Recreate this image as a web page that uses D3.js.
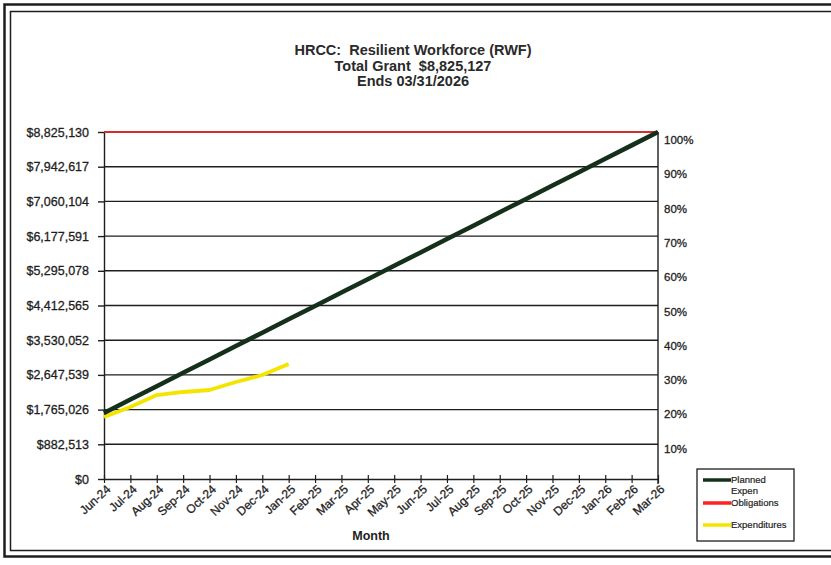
<!DOCTYPE html>
<html><head><meta charset="utf-8">
<script src="https://cdn.jsdelivr.net/npm/d3@7"></script>
<style>body{margin:0;background:#fff}svg{display:block}</style>
</head><body>
<svg id="c" width="831" height="565"></svg>
<script>
const months = ["Jun-24","Jul-24","Aug-24","Sep-24","Oct-24","Nov-24","Dec-24","Jan-25","Feb-25","Mar-25","Apr-25","May-25","Jun-25","Jul-25","Aug-25","Sep-25","Oct-25","Nov-25","Dec-25","Jan-26","Feb-26","Mar-26"];
const plannedExpen = [1680000,2020244,2360489,2700733,3040977,3381222,3721466,4061710,4401955,4742199,5082443,5422688,5762932,6103176,6443420,6783665,7123909,7464153,7804398,8144642,8484886,8825130];
const obligations = [8825130,8825130,8825130,8825130,8825130,8825130,8825130,8825130,8825130,8825130,8825130,8825130,8825130,8825130,8825130,8825130,8825130,8825130,8825130,8825130,8825130,8825130];
const expenditures = [1577000,1831000,2136000,2213000,2264000,2467000,2645000,2925000];
const leftTickValues = [0,882513,1765026,2647539,3530052,4412565,5295078,6177591,7060104,7942617,8825130];
const leftTickLabels = ["$0","$882,513","$1,765,026","$2,647,539","$3,530,052","$4,412,565","$5,295,078","$6,177,591","$7,060,104","$7,942,617","$8,825,130"];
const rightTickValues = [0.1,0.2,0.3,0.4,0.5,0.6,0.7,0.8,0.9,1.0];
const rightTickLabels = ["10%","20%","30%","40%","50%","60%","70%","80%","90%","100%"];
const titleLines = ["HRCC:  Resilient Workforce (RWF)","Total Grant  $8,825,127","Ends 03/31/2026"];
const legendItems = [
  {label:["Planned","Expen"], color:"#14301a"},
  {label:["Obligations"], color:"#ff2020"},
  {label:["Expenditures"], color:"#f4e400"}
];

const svg = d3.select("#c");
const F = "Liberation Sans, Arial, sans-serif";
const ink = "#1e1e1e";

// frame
svg.append("rect").attr("x",4.5).attr("y",4.5).attr("width",840).attr("height",552)
  .attr("fill","none").attr("stroke",ink).attr("stroke-width",2.5);
svg.append("rect").attr("x",10.5).attr("y",11.5).attr("width",830).attr("height",539)
  .attr("fill","none").attr("stroke",ink).attr("stroke-width",1.5);

const x = d3.scalePoint().domain(months).range([104,658]);
const y = d3.scaleLinear().domain([0,8825130]).range([479,132]);
const yR = d3.scaleLinear().domain([0,1]).range([483,140]);

// gridlines
svg.append("g").selectAll("line").data(leftTickValues.slice(1)).join("line")
  .attr("x1",104).attr("x2",658).attr("y1",d=>y(d)).attr("y2",d=>y(d))
  .attr("stroke",ink).attr("stroke-width",1.4);

// left axis
const gl = svg.append("g").attr("transform","translate(104,0)")
  .call(d3.axisLeft(y).tickValues(leftTickValues).tickFormat((d,i)=>leftTickLabels[i]).tickSize(6).tickSizeOuter(0).tickPadding(9));
gl.select(".domain").attr("stroke",ink).attr("stroke-width",1.4);
gl.selectAll(".tick line").attr("stroke",ink).attr("stroke-width",1.4);
gl.selectAll("text").attr("font-family",F).attr("font-size",12.5).attr("fill",ink)
  .attr("stroke",ink).attr("stroke-width",0.3);

// bottom axis
const gb = svg.append("g").attr("transform","translate(0,479)")
  .call(d3.axisBottom(x).tickSize(4).tickSizeOuter(0).tickFormat(""));
gb.select(".domain").attr("stroke",ink).attr("stroke-width",1.6);
gb.selectAll(".tick line").attr("stroke",ink).attr("stroke-width",1.2).attr("y1",-4);
gb.selectAll(".tick").append("text")
  .attr("transform","translate(4,8) rotate(-43)")
  .attr("text-anchor","end").attr("dy","0.35em")
  .attr("font-family",F).attr("font-size",12).attr("fill",ink)
  .attr("stroke",ink).attr("stroke-width",0.3)
  .text(d=>d);

// right axis
svg.append("line").attr("x1",658).attr("x2",658).attr("y1",132).attr("y2",484)
  .attr("stroke",ink).attr("stroke-width",1.4);
svg.append("g").selectAll("text").data(rightTickValues).join("text")
  .attr("x",664).attr("y",d=>yR(d)).attr("dy","0.35em")
  .attr("font-family",F).attr("font-size",11.5).attr("fill",ink)
  .attr("stroke",ink).attr("stroke-width",0.3)
  .text((d,i)=>rightTickLabels[i]);

// series
const line = d3.line().x((d,i)=>x(months[i])).y(d=>y(d));
svg.append("path").datum(obligations).attr("d",line).attr("fill","none")
  .attr("stroke","#ff2020").attr("stroke-width",1.6);
svg.append("path").datum(expenditures).attr("d",line).attr("fill","none")
  .attr("stroke","#f4e400").attr("stroke-width",3.8).attr("stroke-linejoin","round");
svg.append("path").datum(plannedExpen).attr("d",line).attr("fill","none")
  .attr("stroke","#14301a").attr("stroke-width",4.5);

// title
svg.append("g").selectAll("text").data(titleLines).join("text")
  .attr("x",413).attr("y",(d,i)=>55+i*15.5).attr("text-anchor","middle")
  .attr("font-family",F).attr("font-weight","bold").attr("font-size",14.5).attr("fill","#2a2a2a")
  .attr("xml:space","preserve").style("white-space","pre")
  .text(d=>d);

// axis title
svg.append("text").attr("x",371).attr("y",540).attr("text-anchor","middle")
  .attr("font-family",F).attr("font-weight","bold").attr("font-size",12.5).attr("fill",ink)
  .text("Month");

// legend
const lg = svg.append("g");
lg.append("rect").attr("x",697).attr("y",469).attr("width",97).attr("height",72)
  .attr("fill","#fff").attr("stroke",ink).attr("stroke-width",1.3);
const legY = [480,503,525];
legendItems.forEach((it,i)=>{
  lg.append("line").attr("x1",703).attr("x2",731).attr("y1",legY[i]).attr("y2",legY[i])
    .attr("stroke",it.color).attr("stroke-width",3.5);
  it.label.forEach((t,j)=>{
    lg.append("text").attr("x",731).attr("y",legY[i]+j*11).attr("dy","0.35em")
      .attr("font-family",F).attr("font-size",9.5).attr("fill",ink)
      .attr("stroke",ink).attr("stroke-width",0.2).text(t);
  });
});
</script>
</body></html>
